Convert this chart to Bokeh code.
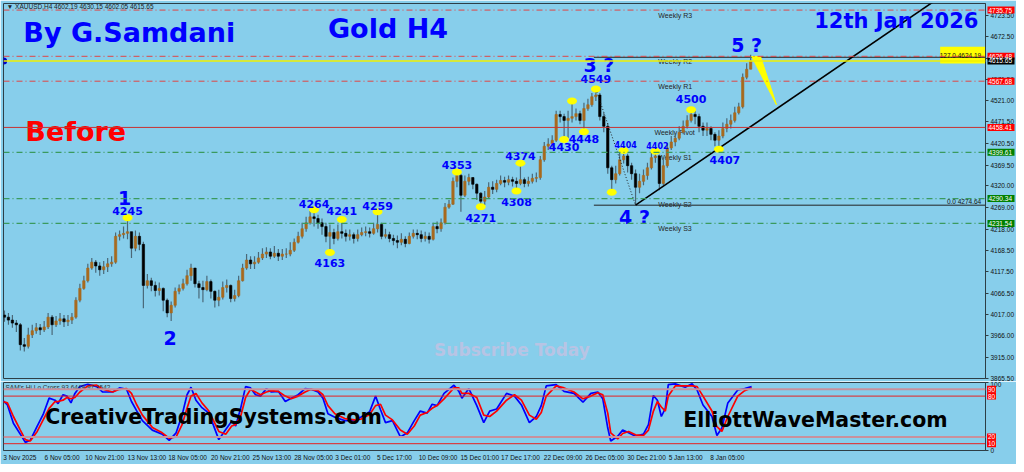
from bokeh.plotting import figure
from bokeh.models import (Range1d, FixedTicker, ColumnDataSource, Span,
                          BoxAnnotation, NumeralTickFormatter)
from bokeh.layouts import column, row
from bokeh.core.properties import value
from bokeh.embed import file_html
from bokeh.resources import INLINE

# ---------------- data ----------------
first_open = 4015.0
closes = [4010, 4003, 3996, 3992, 3945, 3941, 3968, 3978, 3985, 3980,
          3987, 4010, 3992, 4001, 4006, 3999, 4003, 4010, 4050, 4078,
          4096, 4126, 4140, 4131, 4122, 4129, 4136, 4140, 4201, 4205,
          4208, 4212, 4173, 4201, 4182, 4085, 4096, 4085, 4073, 4078,
          4050, 4020, 4038, 4071, 4078, 4089, 4108, 4126, 4089, 4080,
          4075, 4094, 4071, 4050, 4057, 4080, 4085, 4054, 4061, 4096,
          4126, 4145, 4136, 4140, 4150, 4159, 4164, 4154, 4161, 4154,
          4159, 4159, 4168, 4187, 4201, 4219, 4233, 4247, 4243, 4233,
          4224, 4201, 4210, 4196, 4212, 4208, 4201, 4205, 4196, 4205,
          4210, 4212, 4208, 4219, 4229, 4201, 4205, 4196, 4191, 4187,
          4194, 4184, 4201, 4208, 4205, 4196, 4201, 4194, 4224, 4219,
          4233, 4270, 4277, 4331, 4345, 4298, 4331, 4340, 4324, 4303,
          4284, 4294, 4317, 4312, 4326, 4333, 4329, 4335, 4331, 4326,
          4335, 4326, 4331, 4338, 4340, 4382, 4414, 4419, 4428, 4489,
          4484, 4475, 4480, 4484, 4491, 4475, 4503, 4512, 4531, 4535,
          4484, 4461, 4363, 4335, 4349, 4382, 4391, 4368, 4349, 4317,
          4331, 4345, 4363, 4387, 4391, 4326, 4368, 4410, 4424, 4433,
          4447, 4461, 4475, 4489, 4484, 4461, 4452, 4456, 4442, 4428,
          4438, 4456, 4466, 4475, 4493, 4507, 4577, 4596, 4615.65]
highs = [4026, 4020, 4015, 4003, 3996, 3961, 3985, 3992, 3996, 3994,
         4001, 4020, 4015, 4013, 4020, 4015, 4015, 4020, 4057, 4089,
         4108, 4136, 4150, 4145, 4140, 4143, 4150, 4154, 4210, 4215,
         4224, 4245, 4212, 4215, 4210, 4188, 4112, 4103, 4094, 4092,
         4080, 4054, 4047, 4080, 4087, 4101, 4122, 4136, 4126, 4096,
         4096, 4108, 4099, 4073, 4075, 4094, 4099, 4087, 4075, 4108,
         4136, 4159, 4154, 4154, 4164, 4173, 4175, 4173, 4178, 4171,
         4171, 4173, 4187, 4196, 4212, 4233, 4247, 4261, 4264, 4252,
         4243, 4233, 4229, 4219, 4229, 4241, 4217, 4217, 4210, 4217,
         4222, 4224, 4222, 4233, 4259, 4233, 4219, 4212, 4205, 4203,
         4208, 4201, 4210, 4217, 4217, 4215, 4212, 4210, 4233, 4236,
         4243, 4280, 4287, 4340, 4353, 4349, 4345, 4349, 4340, 4326,
         4305, 4308, 4329, 4331, 4335, 4345, 4342, 4345, 4342, 4340,
         4374, 4340, 4342, 4349, 4352, 4391, 4424, 4433, 4440, 4498,
         4498, 4491, 4498, 4521, 4503, 4498, 4517, 4526, 4540, 4549,
         4540, 4493, 4468, 4368, 4368, 4398, 4404, 4396, 4375, 4359,
         4349, 4359, 4375, 4401, 4402, 4394, 4382, 4421, 4438, 4445,
         4461, 4475, 4487, 4500, 4498, 4491, 4470, 4470, 4461, 4447,
         4452, 4470, 4480, 4489, 4507, 4517, 4586, 4610, 4630]
lows = [3999, 3992, 3985, 3975, 3931, 3929, 3936, 3961, 3971, 3968,
        3975, 3982, 3968, 3987, 3992, 3987, 3989, 3994, 4006, 4045,
        4075, 4092, 4122, 4115, 4108, 4112, 4117, 4129, 4136, 4191,
        4196, 4194, 4150, 4166, 4168, 4031, 4078, 4071, 4059, 4061,
        4024, 4010, 4001, 4033, 4064, 4073, 4085, 4096, 4080, 4054,
        4045, 4071, 4054, 4033, 4036, 4052, 4068, 4045, 4047, 4057,
        4094, 4122, 4124, 4124, 4136, 4145, 4150, 4147, 4150, 4143,
        4145, 4150, 4154, 4164, 4184, 4196, 4212, 4229, 4224, 4219,
        4205, 4187, 4163, 4182, 4191, 4196, 4189, 4191, 4184, 4189,
        4201, 4201, 4198, 4205, 4210, 4194, 4196, 4187, 4180, 4173,
        4180, 4175, 4182, 4196, 4194, 4187, 4189, 4184, 4191, 4208,
        4212, 4229, 4266, 4275, 4317, 4259, 4294, 4322, 4312, 4287,
        4271, 4275, 4289, 4301, 4305, 4322, 4317, 4322, 4319, 4308,
        4322, 4317, 4319, 4326, 4329, 4335, 4377, 4405, 4412, 4424,
        4470, 4430, 4433, 4470, 4475, 4466, 4448, 4498, 4507, 4521,
        4475, 4447, 4349, 4305, 4326, 4345, 4373, 4352, 4335, 4275,
        4303, 4322, 4335, 4359, 4375, 4310, 4322, 4363, 4405, 4414,
        4428, 4442, 4456, 4470, 4466, 4447, 4438, 4438, 4428, 4414,
        4407, 4433, 4447, 4456, 4470, 4489, 4503, 4572, 4596]

price_ticks = [4723.5, 4672.5, 4622.0, 4571.5, 4521.0, 4471.5, 4420.5, 4369.5, 4320.0,
               4269.0, 4218.0, 4168.5, 4117.5, 4066.5, 4017.0, 3966.0, 3915.0, 3865.5]

date_bars = [3.875, 14.5, 25.25, 35.875, 46.125, 56.875, 67.375, 77.875, 87.75, 98.25,
             109.25, 119.75, 130, 140.75, 151.25, 161.75, 171.625, 182.125]
date_labels = ["3 Nov 2025", "6 Nov 05:00", "10 Nov 21:00", "13 Nov 13:00", "18 Nov 05:00",
               "20 Nov 21:00", "25 Nov 13:00", "28 Nov 05:00", "3 Dec 01:00", "5 Dec 17:00",
               "10 Dec 09:00", "15 Dec 01:00", "17 Dec 17:00", "22 Dec 09:00", "26 Dec 05:00",
               "30 Dec 21:00", "5 Jan 13:00", "8 Jan 05:00"]

# weekly pivot levels
weekly_names = ["Weekly R3", "Weekly R2", "Weekly R1", "Weekly Pivot", "Weekly S1", "Weekly S2", "Weekly S3"]
weekly_levels = [4735.75, 4626.48, 4567.68, 4458.41, 4399.61, 4290.34, 4231.54]
weekly_bars = [164.75, 164.75, 164.75, 163.75, 164.75, 164.75, 164.75]
bid_price = 4615.65
fibo_0 = 4274.64
fibo_127 = 4624.19
fibo_start_bar = 148.5

# marked swing points
mark_bars = [31, 78, 82, 85, 94, 114, 120, 130, 129, 141, 143, 146, 149, 153, 156, 164, 173, 180]
mark_sides = ["high", "high", "low", "high", "high", "high", "low", "high", "low", "low",
              "high", "low", "high", "low", "high", "high", "high", "low"]
mark_texts = ["4245", "4264", "4163", "4241", "4259", "4353", "4271", "4374", "4308", "4430",
              "", "4448", "4549", "", "4404", "4402", "4500", "4407"]

wave_texts = ["1", "2", "3 ?", "4 ?", "5 ?"]
wave_bars = [31, 42, 149, 159, 188]
wave_sides = ["high", "low", "high", "low", "high"]

trend_bars = [159, 240]
trend_prices = [4274.64, 4793.7]
arrow_bars = [188.25, 190.5, 194.5]
arrow_prices = [4626, 4626, 4512]

# right-hand price tags
tag_vals = [4735.75, 4626.48, 4615.65, 4567.68, 4458.41, 4399.61, 4290.34, 4231.54]
tag_kinds = ["res", "res", "bid", "res", "res", "sup", "sup", "sup"]

# oscillator (SAM's Hi Lo Cross)
osc_bars = [-0.5, 0.75, 2.25, 4, 5.25, 6.5, 8.25, 9.75, 11.25, 12.75,
            13.5, 14.75, 15.75, 16.75, 17.75, 19, 21, 23.25, 24.75, 27.25,
            29, 30.75, 32, 33.25, 34.75, 37.25, 39.75, 41.5, 43.25, 44.75,
            46, 47, 48.25, 49.75, 51.5, 54, 55.75, 57.25, 58.25, 59.5,
            60.75, 62, 63.25, 64.5, 66, 67.25, 69, 70.75, 72.25, 74,
            75.75, 77.25, 79, 80.25, 81.5, 83.25, 85.75, 88.25, 89.75, 92,
            93.5, 94.75, 96, 97.75, 99.75, 101.5, 103.25, 104.75, 106.5, 107.75,
            109, 110.75, 113.25, 114.5, 115.25, 117, 119, 120.75, 122.25, 124,
            126.5, 128.5, 130.25, 132.25, 134, 135.25, 136.5, 139, 141, 143.5,
            145.75, 147.75, 149.5, 150.75, 152, 152.75, 154.5, 155.75, 157.25, 159,
            161, 162.25, 163.5, 164.5, 165.5, 166.5, 167.25, 169, 171.5, 173.25,
            174.5, 176, 178.25, 179.5, 180.75, 182.25, 184.75, 186.5, 188.25]
osc_blue = [74, 67, 40, 24, 12, 15, 36, 53, 77, 74,
            69, 82, 80, 70, 84, 94, 97.5, 94, 86, 86,
            92, 90, 72, 59, 44, 30, 24, 15, 26, 52,
            82, 93, 74, 63, 55, 16, 31, 43, 36, 62,
            94, 92, 82, 80, 91, 86, 87, 72, 77, 82,
            91, 90, 86, 77, 54, 49, 44, 44, 49, 57,
            80, 60, 41, 44, 20, 26, 44, 58, 55, 68,
            66, 84, 96, 87, 77, 91, 66, 41, 58, 61,
            84, 80, 67, 41, 50, 66, 95, 97, 87, 84,
            71, 84, 86, 76, 33, 14, 21, 30, 26, 21,
            24, 38, 81, 74, 50, 62, 97, 98, 93, 98,
            89, 67, 50, 22, 33, 70, 89, 91, 94]
osc_red = [72, 70, 50, 30, 16, 14, 28, 45, 62, 72,
           72, 74, 78, 76, 78, 86, 95, 96, 90, 86,
           90, 91, 84, 68, 52, 34, 26, 18, 20, 38,
           62, 80, 84, 70, 58, 28, 24, 36, 38, 50,
           78, 90, 86, 82, 86, 88, 87, 80, 76, 80,
           86, 90, 88, 82, 66, 54, 47, 45, 46, 53,
           66, 68, 52, 45, 30, 24, 36, 52, 56, 62,
           66, 76, 92, 92, 84, 84, 78, 52, 50, 58,
           74, 82, 74, 52, 46, 56, 80, 95, 92, 86,
           76, 80, 85, 82, 55, 26, 17, 25, 28, 23,
           22, 30, 58, 72, 64, 58, 80, 95, 95, 95,
           94, 80, 58, 35, 28, 50, 80, 88, 92]
osc_levels = [90, 80, 20, 10]

# ---------------- styling ----------------
BG = "#87CEEB"
FRAME = "#2d3e46"
BLUE = "#0000ff"
AXF = "Liberation Sans"
TAG_COL = {"res": "#ff0000", "sup": "#008000", "bid": "#000000"}
MARK_YOFF = [-7, -6, 11, -8, -6, -7, 11, -7, 11, 8, 0, 7, -10, 0, -6, -6, -11, 11]

n = len(closes)
opens = [first_open] + closes[:-1]
tops = [max(o, c) for o, c in zip(opens, closes)]
bots = [min(o, c) for o, c in zip(opens, closes)]
cols = ["#a86a1e" if c >= o else "#000000" for o, c in zip(opens, closes)]

x_range = Range1d(-0.244, 247.17)
p = figure(width=1016, height=381, x_range=x_range, y_range=Range1d(3865.0, 4751.3),
           output_backend="svg", toolbar_location=None, x_axis_location=None,
           y_axis_location="right", background_fill_color=BG, border_fill_color=BG,
           min_border_left=3, min_border_right=31, min_border_top=3, min_border_bottom=3,
           outline_line_color=FRAME, outline_line_width=1)
p.grid.visible = False
ya = p.yaxis[0]
ya.ticker = FixedTicker(ticks=price_ticks)
ya.formatter = NumeralTickFormatter(format="0.00")
ya.major_label_text_font = AXF
ya.major_label_text_font_size = "6.5px"
ya.major_label_text_color = "#111111"
ya.major_tick_out = 3
ya.major_tick_in = 0
ya.minor_tick_line_color = None
ya.major_label_standoff = 2
ya.axis_line_color = FRAME
ya.major_tick_line_color = FRAME

# yellow fibo tag box (under the glyphs)
p.add_layout(BoxAnnotation(left=235.75, right=x_range.end, top=4649.15, bottom=4609.65,
                           fill_color="#ffff00", fill_alpha=1.0, line_color=None,
                           level="underlay"))

# level lines
lvl_styles = [("#e04545", "6 3 1 3", 1), ("#e04545", "6 3 1 3", 1), ("#e04545", "6 3 1 3", 1),
              ("#c83232", "solid", 1), ("#3a9a5e", "6 3 1 3", 1.2), ("#3a9a5e", "6 3 1 3", 1.2),
              ("#3a9a5e", "6 3 1 3", 1.2)]
for lv, (c, d, w) in zip(weekly_levels, lvl_styles):
    p.add_layout(Span(location=lv, dimension="width", line_color=c, line_dash=d, line_width=w))
p.add_layout(Span(location=bid_price, dimension="width", line_color="#f0f000", line_width=1.5))
p.segment(x0=[fibo_start_bar, fibo_start_bar], y0=[fibo_0, fibo_127],
          x1=[x_range.end, x_range.end], y1=[fibo_0, fibo_127], line_color="#222222", line_width=1)

# weekly labels
wsrc = ColumnDataSource(dict(x=weekly_bars, y=weekly_levels, t=weekly_names))
p.text("x", "y", "t", source=wsrc, text_font=value(AXF), text_font_size="7px",
       text_color="#262626", text_baseline="top", y_offset=2)

# candles
src = ColumnDataSource(dict(x=list(range(n)), h=highs, l=lows, top=tops, bot=bots, col=cols))
p.segment("x", "l", "x", "h", source=src, line_color="#4a6878", line_width=1.2)
p.vbar("x", 0.6, "top", "bot", source=src, fill_color="col", line_color="col", line_width=0.6)

# dotted wave 3 -> 4 line and trend line
p.line([149, 159], [highs[149], fibo_0], line_color="#222222", line_dash="1 2", line_width=1)
p.line(trend_bars, trend_prices, line_color="black", line_width=1.6)
p.patch(arrow_bars, arrow_prices, fill_color="#ffff00", line_color="#ffff00")

# swing dots & labels
mx = mark_bars
my = [highs[b] if s == "high" else lows[b] for b, s in zip(mark_bars, mark_sides)]
p.ellipse(mx, my, width=10, height=7, width_units="screen", height_units="screen",
          fill_color="#ffff00", line_color=None)
small = ["4404", "4402"]
lsrc = ColumnDataSource(dict(
    x=mx, y=my, t=[t if t not in small else "" for t in mark_texts], yo=MARK_YOFF,
    xo=[6 if t == "4407" else 0 for t in mark_texts]))
p.text("x", "y", "t", source=lsrc, text_font=value("DejaVu Sans"), text_font_style="bold",
       text_font_size="11px", text_color=BLUE, text_align="center", text_baseline="middle",
       y_offset="yo", x_offset="xo")
ssrc = ColumnDataSource(dict(x=[b for b, t in zip(mx, mark_texts) if t in small],
                             y=[v for v, t in zip(my, mark_texts) if t in small],
                             t=[t for t in mark_texts if t in small]))
p.text("x", "y", "t", source=ssrc, text_font=value("DejaVu Sans"), text_font_style="bold",
       text_font_size="8px", text_color=BLUE, text_align="center", text_baseline="middle",
       y_offset=-6, x_offset=2)
wy = [highs[b] if s == "high" else lows[b] for b, s in zip(wave_bars, wave_sides)]
wsrc2 = ColumnDataSource(dict(x=wave_bars, y=wy, t=wave_texts,
                              yo=[-20, 17, -24, 12, -10], xo=[-3, -1, 3, -1, -4]))
p.text("x", "y", "t", source=wsrc2, text_font=value("DejaVu Sans"), text_font_style="bold",
       text_font_size="19px", text_color=BLUE, text_align="center", text_baseline="middle",
       y_offset="yo", x_offset="xo")


def txt(fig, x, y, text, size, color, bold=True, font="DejaVu Sans", align="left",
        base="middle"):
    fig.text([x], [y], [text], text_font=value(font), text_font_size=size, text_color=color,
             text_font_style="bold" if bold else "normal", text_align=align,
             text_baseline=base)


txt(p, 4.75, 4682.8, "By G.Samdani", "27px", BLUE)
txt(p, 81.5, 4693.3, "Gold H4", "27px", BLUE)
txt(p, 204.0, 4708.9, "12th Jan 2026", "21px", BLUE)
txt(p, 5.25, 4449.3, "Before", "27px", "#ff0000")
txt(p, 108.25, 3932.4, "Subscribe Today", "17px", "#b8c4e4")
txt(p, 0.6, 4744.0, "\u25bc XAUUSD,H4  4602.19 4630.15 4602.05 4615.65", "6.5px", "#222222",
    bold=False, font=AXF)
txt(p, 247.0, 4283.0, "0.0   4274.64", "6.5px", "#111111", bold=False, font=AXF,
    align="right")
txt(p, 247.0, 4628.0, "127.0   4624.19", "6.5px", "#111111", bold=False, font=AXF,
    align="right")
p.scatter([-0.2], [bid_price], size=7, marker="circle", fill_color="#0000cc", line_color=None)

# overlay strip over the price axis for coloured price tags
pt = figure(width=31, height=381, x_range=Range1d(0, 31), y_range=p.y_range,
            output_backend="svg", toolbar_location=None, x_axis_location=None,
            y_axis_location=None, min_border_left=0, min_border_right=0, min_border_top=3,
            min_border_bottom=3, outline_line_color=None, background_fill_alpha=0,
            border_fill_alpha=0, margin=(0, 0, 0, -31))
pt.grid.visible = False
tsrc = ColumnDataSource(dict(y=tag_vals, t=["%.2f" % v for v in tag_vals],
                             c=[TAG_COL[k] for k in tag_kinds]))
pt.rect(x=15.5, y="y", width=27, height=7, height_units="screen", source=tsrc,
        fill_color="c", line_color=None)
pt.text(x=3, y="y", text="t", source=tsrc, text_font=value(AXF), text_font_size="6.5px",
        text_color="#ffffff", text_baseline="middle")

# ---------------- oscillator ----------------
q = figure(width=1016, height=83, x_range=x_range, y_range=Range1d(0, 100),
           output_backend="svg", toolbar_location=None, y_axis_location="right",
           background_fill_color=BG, border_fill_color=BG,
           min_border_left=3, min_border_right=31, min_border_top=1, min_border_bottom=14,
           outline_line_color=FRAME, outline_line_width=1)
q.grid.visible = False
for lv in osc_levels:
    if lv in (90, 20):
        q.add_layout(Span(location=lv, dimension="width", line_color="#c8909c", line_width=2))
    else:
        q.add_layout(Span(location=lv, dimension="width", line_color="#e82020", line_width=1))
q.line(osc_bars, osc_blue, line_color="#0000ff", line_width=1.7)
q.line(osc_bars, osc_red, line_color="#ff0000", line_width=1.7)

qy = q.yaxis[0]
qy.ticker = FixedTicker(ticks=[0, 100])
qy.major_label_text_font = AXF
qy.major_label_text_font_size = "6.5px"
qy.major_label_text_color = "#111111"
qy.major_tick_out = 3
qy.major_tick_in = 0
qy.minor_tick_line_color = None
qy.major_label_standoff = 2
qy.axis_line_color = FRAME
qy.major_tick_line_color = FRAME

qx = q.xaxis[0]
qx.ticker = FixedTicker(ticks=date_bars)
qx.major_label_overrides = {b: t for b, t in zip(date_bars, date_labels)}
qx.major_label_text_font = AXF
qx.major_label_text_font_size = "6.5px"
qx.major_label_text_color = "#111111"
qx.major_tick_out = 0
qx.major_tick_in = 0
qx.major_tick_line_color = None
qx.minor_tick_line_color = None
qx.major_label_standoff = 3
qx.axis_line_color = FRAME

txt(q, 0.25, 93, "SAM's Hi Lo Cross 93.6448 97.1542", "6.5px", "#333333", bold=False,
    font=AXF)
txt(q, 10.25, 50, "CreativeTradingSystems.com", "20.5px", "#000000")
txt(q, 171.0, 45.5, "ElliottWaveMaster.com", "20.5px", "#000000")

qt = figure(width=31, height=83, x_range=Range1d(0, 31), y_range=q.y_range,
            output_backend="svg", toolbar_location=None, x_axis_location=None,
            y_axis_location=None, min_border_left=0, min_border_right=0, min_border_top=1,
            min_border_bottom=14, outline_line_color=None, background_fill_alpha=0,
            border_fill_alpha=0, margin=(0, 0, 0, -31))
qt.grid.visible = False
osrc = ColumnDataSource(dict(y=osc_levels, t=[str(v) for v in osc_levels]))
qt.rect(x=6, y="y", width=9, height=7, height_units="screen", source=osrc,
        fill_color="#ff0000", line_color=None)
qt.text(x=2.5, y="y", text="t", source=osrc, text_font=value(AXF), text_font_size="6.5px",
        text_color="#ffffff", text_baseline="middle")

layout = column(row(p, pt, spacing=0), row(q, qt, spacing=0), spacing=0)
open("out.html", "w").write(file_html(layout, INLINE))
